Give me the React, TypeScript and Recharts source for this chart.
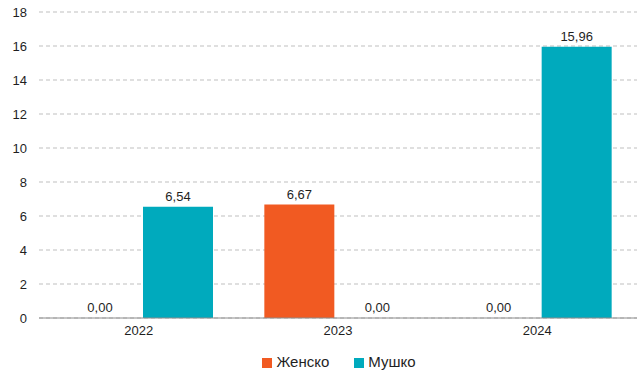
import React from 'react';
import { BarChart, Bar, XAxis, YAxis, CartesianGrid, Legend, LabelList } from 'recharts';

const categories = ['2022', '2023', '2024'];
const female = [0, 6.67, 0];
const male = [6.54, 0, 15.96];
const yTicks = [0, 2, 4, 6, 8, 10, 12, 14, 16, 18];

const data = categories.map((c, i) => ({ year: c, female: female[i], male: male[i] }));

const fmt = (v: any) => Number(v).toFixed(2).replace('.', ',');

const FONT = '"Liberation Sans", Arial, sans-serif';
const TXT = '#1F1F1F';

const renderLabel = (props: any) => {
  const { x, y, width, value } = props;
  return (
    <text
      x={Number(x) + Number(width) / 2}
      y={Number(y) - 6}
      textAnchor="middle"
      fill={TXT}
      fontSize={13}
      fontFamily={FONT}
    >
      {fmt(value)}
    </text>
  );
};

export default function App() {
  return (
    <div style={{ width: 637, height: 373, fontFamily: FONT }}>
      <style>{`body{margin:0}`}</style>
      <BarChart
        width={637}
        height={373}
        data={data}
        margin={{ top: 12, right: 0, left: 0, bottom: 5 }}
        barCategoryGap={25}
        barGap={8}
      >
        <CartesianGrid vertical={false} stroke="#BFBFBF" strokeDasharray="4 3" />
        <XAxis
          dataKey="year"
          height={30}
          tickLine={false}
          axisLine={{ stroke: '#8C8C8C' }}
          tick={{ fill: TXT, fontSize: 13, fontFamily: FONT }}
          tickMargin={2}
        />
        <YAxis
          width={39}
          domain={[0, 18]}
          ticks={yTicks}
          interval={0}
          axisLine={false}
          tickLine={false}
          tickSize={0}
          tickMargin={12}
          tick={{ fill: TXT, fontSize: 13, fontFamily: FONT }}
        />
        <Legend
          height={20}
          iconType="square"
          iconSize={10}
          wrapperStyle={{ fontSize: 15, fontFamily: FONT, color: TXT, left: 45, width: 598, top: 353 }}
          formatter={(v: any, _e: any, i: number) => (
            <span style={{ color: TXT, marginRight: i === 0 ? 15 : 0 }}>{v}</span>
          )}
        />
        <Bar dataKey="female" name="Женско" fill="#F15A22" barSize={70} minPointSize={0.01} isAnimationActive={false}>
          <LabelList dataKey="female" content={renderLabel} />
        </Bar>
        <Bar dataKey="male" name="Мушко" fill="#00AABD" barSize={70} minPointSize={0.01} isAnimationActive={false}>
          <LabelList dataKey="male" content={renderLabel} />
        </Bar>
      </BarChart>
    </div>
  );
}
